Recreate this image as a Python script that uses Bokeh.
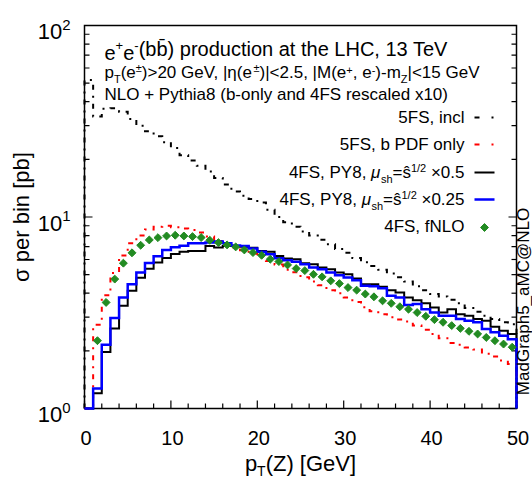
import numpy as np
from bokeh.plotting import figure
from bokeh.models import Label, Range1d
from bokeh.embed import file_html
from bokeh.resources import INLINE

# ---------------- data ----------------
bin_edges = list(range(0, 51))  # pT(Z) bins of 1 GeV

incl_5fs = [52.0, 33.5, 36.8, 37.0, 35.5, 32.5, 30.0, 28.0, 26.4, 24.6,
            22.9, 21.0, 19.7, 18.5, 17.3, 16.0, 14.8, 13.6, 12.9, 12.4,
            11.9, 10.9, 10.0, 9.4, 8.9, 8.4, 8.0, 7.6, 7.2, 6.8,
            6.5, 6.1, 5.8, 5.55, 5.3, 5.07, 4.85, 4.6, 4.35, 4.15,
            3.96, 3.85, 3.7, 3.54, 3.35, 3.2, 3.05, 2.93, 2.82, 2.75]

bpdf_5fs = [0.9, 2.74, 3.9, 5.1, 6.3, 7.3, 8.0, 8.6, 8.9, 9.0,
            8.85, 8.7, 8.55, 8.3, 7.9, 7.5, 7.2, 6.9, 6.7, 6.45,
            6.2, 5.9, 5.65, 5.3, 5.15, 4.85, 4.6, 4.4, 4.15, 4.0,
            3.8, 3.6, 3.38, 3.22, 3.11, 3.0, 2.92, 2.85, 2.71, 2.58,
            2.45, 2.33, 2.2, 2.15, 2.08, 2.03, 1.93, 1.87, 1.78, 1.71]

py8_x050 = [0.8, 1.20, 1.97, 2.62, 3.44, 4.12, 4.82, 5.36, 5.78, 6.10,
            6.40, 6.58, 6.65, 6.65, 7.06, 6.92, 7.06, 7.06, 7.0, 6.9,
            6.65, 6.58, 6.26, 6.07, 6.02, 5.74, 5.67, 5.45, 5.34, 5.13,
            5.03, 4.77, 4.46, 4.46, 4.32, 4.15, 4.04, 3.80, 3.68, 3.54,
            3.37, 3.17, 3.30, 3.11, 3.05, 2.93, 2.87, 2.67, 2.55, 2.45]

py8_x025 = [0.85, 1.27, 2.15, 2.97, 3.80, 4.46, 5.13, 5.75, 6.23, 6.72,
            6.95, 7.08, 7.29, 7.29, 7.35, 7.45, 7.3, 7.1, 7.06, 6.84,
            6.58, 6.39, 6.09, 5.95, 5.83, 5.67, 5.45, 5.34, 5.13, 4.97,
            4.83, 4.68, 4.37, 4.35, 4.25, 3.88, 3.80, 3.47, 3.51, 3.30,
            3.17, 3.05, 3.05, 2.93, 2.87, 2.82, 2.60, 2.50, 2.40, 2.30]

fnlo_4fs = [0.8, 2.26, 3.58, 4.74, 5.74, 6.50, 7.12, 7.59, 7.80, 7.96,
            8.03, 7.96, 7.90, 7.81, 7.56, 7.35, 7.15, 6.98, 6.73, 6.52,
            6.31, 6.02, 5.85, 5.62, 5.38, 5.25, 5.02, 4.87, 4.64, 4.49,
            4.28, 4.15, 3.96, 3.83, 3.65, 3.54, 3.40, 3.30, 3.17, 3.03,
            2.91, 2.82, 2.71, 2.62, 2.53, 2.45, 2.35, 2.26, 2.17, 2.09]

x_major_ticks = [0, 10, 20, 30, 40, 50]
x_tick_labels = ["0", "10", "20", "30", "40", "50"]
x_minor_ticks = [2, 4, 6, 8, 12, 14, 16, 18, 22, 24, 26, 28, 32, 34, 36, 38, 42, 44, 46, 48]
y_major_ticks = [1, 10, 100]
y_tick_exponents = ["0", "1", "2"]
y_minor_ticks = [2, 3, 4, 5, 6, 7, 8, 9, 20, 30, 40, 50, 60, 70, 80, 90]

# ---------------- layout (pixel box of the axes on the page) ----------------
X0, X1, Y0, Y1 = 0, 50, 1, 100
W, H = 532, 479
FL, FR, FT, FB = 84, 516, 25, 408
PPX = (FR - FL) / (X1 - X0)
L0, L1 = np.log10(Y0), np.log10(Y1)
PPD = (FB - FT) / (L1 - L0)
FONT = "Liberation Sans"
DESC = 0.21


def dx(cx):
    return float(X0 + (cx - FL) / PPX)


def dy(cy):
    return float(10 ** (L0 + (FB - cy) / PPD))


def cy_of(v):
    return float(FB - (np.log10(v) - L0) * PPD)


def cx_of(v):
    return float(FL + (v - X0) * PPX)


p = figure(width=W, height=H, x_range=Range1d(dx(0), dx(W)), y_range=Range1d(dy(H), dy(0)),
           y_axis_type="log", x_axis_location=None, y_axis_location=None,
           output_backend="svg", toolbar_location=None,
           min_border_left=0, min_border_right=0, min_border_top=0, min_border_bottom=0)
p.grid.visible = False
p.outline_line_color = None
p.background_fill_color = "white"
p.border_fill_color = "white"

# ---------------- axes box and ticks ----------------
p.line([X0, X1, X1, X0, X0], [Y0, Y0, Y1, Y1, Y0], line_color="black", line_width=1.5,
       line_join="miter")
MAJ, MIN = 8, 5
p.segment(x_major_ticks, [Y0] * len(x_major_ticks), x_major_ticks,
          [dy(FB - MAJ)] * len(x_major_ticks), line_color="black", line_width=1.2)
p.segment(x_minor_ticks, [Y0] * len(x_minor_ticks), x_minor_ticks,
          [dy(FB - MIN)] * len(x_minor_ticks), line_color="black", line_width=1.2)
for xe, sgn in ((X0, 1), (X1, -1)):
    p.segment([xe] * len(y_major_ticks), y_major_ticks,
              [dx(cx_of(xe) + sgn * MAJ)] * len(y_major_ticks), y_major_ticks,
              line_color="black", line_width=1.2)
    p.segment([xe] * len(y_minor_ticks), y_minor_ticks,
              [dx(cx_of(xe) + sgn * MIN)] * len(y_minor_ticks), y_minor_ticks,
              line_color="black", line_width=1.2)


# ---------------- histograms ----------------
def steps(vals):
    xs, ys = [bin_edges[0]], [Y0]
    for i, v in enumerate(vals):
        vv = max(v, Y0)
        xs += [bin_edges[i], bin_edges[i + 1]]
        ys += [vv, vv]
    xs.append(bin_edges[len(vals)])
    ys.append(Y0)
    return xs, ys


DASH = "5 6 2 6"
MSIZE = 5.6
xs, ys = steps(incl_5fs)
p.line(xs, ys, line_color="black", line_width=2, line_dash=DASH, line_join="miter")
xs, ys = steps(bpdf_5fs)
p.line(xs, ys, line_color="#ff0000", line_width=2, line_dash=DASH, line_join="miter")
xs, ys = steps(py8_x050)
p.line(xs, ys, line_color="black", line_width=2, line_join="miter")
xs, ys = steps(py8_x025)
p.line(xs, ys, line_color="#0000ff", line_width=2.5, line_join="miter")
centers = [(bin_edges[i] + bin_edges[i + 1]) / 2 for i in range(len(fnlo_4fs))]
vis = [(c, v) for c, v in zip(centers, fnlo_4fs) if v >= Y0]
p.scatter([c for c, v in vis], [v for c, v in vis], marker="square", angle=np.pi / 4,
          size=MSIZE, fill_color="#228B22", line_color="#228B22", line_width=1)

# ---------------- text helpers ----------------
AW = {' ': 278, '\u00a0': 278, '!': 278, '(': 333, ')': 333, '+': 584, ',': 278, '-': 333,
      '.': 278, '/': 278, '<': 584, '=': 584, '>': 584, '@': 1015, '[': 278, ']': 278,
      '_': 556, '|': 260, '±': 549, '×': 584,
      'A': 667, 'B': 667, 'C': 722, 'D': 722, 'E': 667, 'F': 611, 'G': 778, 'H': 722,
      'I': 278, 'L': 556, 'M': 833, 'N': 722, 'O': 778, 'P': 667, 'S': 667, 'T': 611,
      'V': 667, 'Y': 667, 'Z': 611,
      'a': 556, 'b': 556, 'c': 500, 'd': 556, 'e': 556, 'f': 278, 'g': 556, 'h': 556,
      'i': 222, 'l': 222, 'm': 833, 'n': 556, 'o': 556, 'p': 556, 'r': 333, 's': 500,
      't': 278, 'u': 556, 'x': 500, 'y': 500, 'η': 556, 'μ': 576, 'σ': 617, 'ŝ': 500}


def tw(s, size):
    return sum(AW.get(c, 556) for c in s if c != "\u0304") * size / 1000.0


def label(cx, base, text, size, italic=False, angle=0.0, align="left"):
    if angle:
        x, y = dx(cx + DESC * size), dy(base)
    else:
        x, y = dx(cx), dy(base + DESC * size)
    p.add_layout(Label(x=x, y=y, text=text, text_font=FONT, text_font_size=f"{size}px",
                       text_font_style="italic" if italic else "normal",
                       text_baseline="bottom", text_align=align, angle=angle,
                       text_color="black"))


def rich(x, base, parts, align="left"):
    total = sum(tw(t, s) for t, s, r, it in parts)
    if align == "right":
        cur = x - total
    elif align == "center":
        cur = x - total / 2
    else:
        cur = x
    for t, s, r, it in parts:
        label(cur, base - r, t, s, italic=it)
        cur += tw(t, s)


# tick labels
for v, t in zip(x_major_ticks, x_tick_labels):
    label(cx_of(v) + 1.5, 440, t, 20, align="center")
for v, e in zip(y_major_ticks, y_tick_exponents):
    rich(70, cy_of(v) + 9, [("10", 22, 0, False), (e, 15, 8, False)], align="right")

# axis labels
rich((FL + FR) / 2, 471, [("p", 22, 0, False), ("T", 14, -5, False), ("(Z) [GeV]", 22, 0, False)],
     align="center")
label(28.5, (FT + FB) / 2, "σ per bin [pb]", 22, angle=np.pi / 2, align="center")
label(529, 301, "MadGraph5_aMC@NLO", 17, angle=np.pi / 2, align="center")

# titles
S1, S2 = 20, 17
sup1, sup2 = 13, 11
rich(104, 55, [("e", S1, 0, False), ("+", sup1, 8, False), ("e", S1, 0, False), ("-", sup1, 8, False),
               ("(bb\u0304) production at the LHC, 13 TeV", S1, 0, False)])
rich(104, 78, [("p", S2, 0, False), ("T", sup2, -4, False), ("(e", S2, 0, False), ("±", sup2, 7, False),
               (")>20 GeV, |η(e", S2, 0, False), ("±", sup2, 7, False),
               (")|<2.5, |M(e", S2, 0, False), ("+", sup2, 7, False), (",\u00a0e", S2, 0, False),
               ("-", sup2, 7, False), (")-m", S2, 0, False), ("Z", sup2, -4, False),
               ("|<15 GeV", S2, 0, False)])
rich(104, 100, [("NLO + Pythia8 (b-only and 4FS rescaled x10)", S2, 0, False)])

# legend
LS, LSS = 17, 11
TR = 464
rich(TR, 123, [("5FS, incl", LS, 0, False)], align="right")
rich(TR, 150, [("5FS, b PDF only", LS, 0, False)], align="right")
rich(TR, 178, [("4FS, PY8,\u00a0", LS, 0, False), ("μ", LS, 0, True), ("sh", LSS, -4, False),
               ("=ŝ", LS, 0, False), ("1/2", LSS, 7, False), ("\u00a0×0.5", LS, 0, False)],
     align="right")
rich(TR, 205, [("4FS, PY8,\u00a0", LS, 0, False), ("μ", LS, 0, True), ("sh", LSS, -4, False),
               ("=ŝ", LS, 0, False), ("1/2", LSS, 7, False), ("\u00a0×0.25", LS, 0, False)],
     align="right")
rich(TR, 232, [("4FS, fNLO", LS, 0, False)], align="right")

sx0, sx1 = dx(474), dx(494)
p.line([sx0, sx1], [dy(117), dy(117)], line_color="black", line_width=2, line_dash="5 12 2 12")
p.line([sx0, sx1], [dy(144), dy(144)], line_color="#ff0000", line_width=2, line_dash="5 12 2 12")
p.line([sx0, sx1], [dy(172), dy(172)], line_color="black", line_width=2)
p.line([sx0, sx1], [dy(199), dy(199)], line_color="#0000ff", line_width=2.5)
p.scatter([dx(484)], [dy(227)], marker="square", angle=np.pi / 4, size=MSIZE,
          fill_color="#228B22", line_color="#228B22", line_width=1)

open("out.html", "w").write(file_html(p, INLINE))
